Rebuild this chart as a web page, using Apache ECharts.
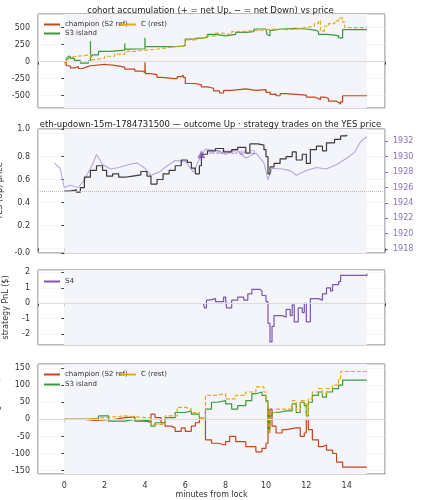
<!DOCTYPE html>
<html><head><meta charset="utf-8">
<script src="https://cdn.jsdelivr.net/npm/echarts@6/dist/echarts.min.js"></script>
<style>html,body{margin:0;background:#fff}#main{width:421px;height:500px}</style>
</head><body><div id="main"></div>
<script>
// panel 1: accumulated net YES shares
var accChampion = [[0,0],[0.1,-60],[0.3,-90],[0.5,-70],[0.7,-100],[0.9,-80],[1.1,-60],[1.3,-40],[2,-45],[2.2,-55],[2.5,-80],[3,-110],[3.5,-140],[3.9,-160],[4,-10],[4.02,-175],[4.3,-190],[4.6,-230],[4.8,-250],[5.5,-250],[5.6,-220],[5.8,-200],[5.9,-230],[6,-320],[6.5,-340],[6.8,-370],[7.1,-390],[7.4,-430],[7.7,-460],[7.9,-420],[8.3,-400],[9,-420],[9.5,-410],[10,-450],[10.2,-480],[10.4,-470],[10.5,-500],[10.7,-470],[11,-480],[11.5,-490],[12,-520],[12.4,-540],[12.6,-560],[12.7,-520],[12.9,-540],[13.1,-580],[13.5,-600],[13.6,-620],[13.7,-590],[13.8,-500],[15,-500]];
var accS3 = [[0,0],[0.1,40],[0.2,80],[0.3,50],[0.5,20],[0.8,-20],[1.2,10],[1.3,300],[1.31,60],[1.4,100],[1.7,150],[2.3,170],[3,170],[3,270],[3.01,185],[3.3,190],[4,200],[4,350],[4.01,220],[4.8,220],[5.5,230],[5.9,240],[6,330],[6.4,350],[6.9,360],[7.1,400],[7.5,380],[8,400],[8.5,430],[9,440],[9.4,480],[10,480],[10.05,400],[10.1,380],[10.2,460],[10.3,480],[10.8,490],[11.5,480],[12,460],[12.5,440],[12.6,400],[13,390],[13.4,380],[13.6,350],[13.8,470],[15,470]];
var accC = [[0,0],[0.1,60],[0.3,80],[0.6,90],[1,100],[1.3,30],[1.5,50],[2,80],[2.5,110],[3,150],[3.5,170],[4,180],[4.5,200],[5,220],[5.5,230],[6,320],[6.5,350],[7,380],[7.5,420],[7.8,400],[8.3,440],[8.8,460],[9.5,470],[10,480],[10.5,470],[11,480],[11.5,500],[12,520],[12.4,560],[12.6,600],[12.7,450],[12.9,520],[13.1,560],[13.4,600],[13.6,640],[13.8,580],[13.9,500],[15,500]];

// panel 2: YES price and ETH/USD
var yesPrice = [[0,0.5],[0.3,0.51],[0.6,0.49],[0.8,0.53],[1,0.62],[1.3,0.68],[1.6,0.72],[1.9,0.68],[2.1,0.63],[2.4,0.65],[2.7,0.62],[3,0.63],[3.4,0.64],[3.8,0.67],[4.1,0.63],[4.3,0.56],[4.6,0.6],[4.9,0.65],[5.2,0.68],[5.5,0.72],[5.8,0.77],[6.1,0.75],[6.3,0.7],[6.5,0.65],[6.7,0.72],[6.8,0.82],[7.1,0.85],[7.5,0.87],[7.9,0.84],[8.3,0.86],[8.6,0.88],[9,0.83],[9.2,0.91],[9.6,0.9],[9.9,0.86],[10,0.8],[10.1,0.65],[10.2,0.71],[10.4,0.74],[10.7,0.78],[11,0.8],[11.3,0.84],[11.5,0.77],[11.8,0.82],[12,0.74],[12.2,0.86],[12.5,0.89],[12.8,0.85],[13,0.92],[13.4,0.95],[13.7,0.98],[14,0.99]];
var ethUsd = [[-0.5,1929.2],[-0.2,1928.5],[0,1926],[0.3,1926.3],[0.7,1926],[1,1927],[1.4,1929],[1.6,1930.3],[1.9,1929],[2.3,1928.4],[2.7,1928.6],[3.2,1929],[3.6,1929.2],[4,1928.5],[4.3,1927.6],[4.7,1928],[5.1,1928.8],[5.5,1929.5],[6,1929.4],[6.4,1928],[6.7,1929.7],[7,1931],[7.6,1930.8],[8,1930.3],[8.5,1931],[9,1929.8],[9.5,1930.5],[9.9,1929.2],[10.1,1927],[10.3,1928.5],[10.8,1928.4],[11.2,1928.2],[11.5,1927.6],[12,1928.2],[12.5,1928.6],[13,1928.4],[13.5,1929],[14,1929.8],[14.4,1930.6],[14.7,1932],[15,1932.6]];
var tradePts = [[6.8,0.82]];

// panel 3: strategy PnL
var pnlS4 = [[6.9,0],[6.95,-0.3],[7.05,0.2],[7.2,0.3],[7.5,0.1],[7.9,0.4],[8,0.2],[8.05,-0.3],[8.3,0.2],[8.6,0.4],[8.9,0.2],[9.1,0.6],[9.3,0.9],[9.7,0.8],[9.8,0.5],[10,0.1],[10.1,-1.3],[10.2,-2.5],[10.3,-1.5],[10.4,-0.8],[10.8,-0.9],[11,-0.4],[11.2,-0.8],[11.3,-0.1],[11.4,-1.2],[11.6,-0.3],[11.8,-0.6],[11.9,0],[12,-1.2],[12.2,0.3],[12.6,0.2],[12.8,0.6],[13,1],[13.2,0.8],[13.3,1.2],[13.6,1.4],[13.7,1.8],[15,1.8],[15,1.9]];

// panel 4: cohort moving PnL
var mpChampion = [[0,0],[1,-3],[1.5,0],[2.5,5],[3,7],[3.5,-5],[4,-8],[4.3,15],[4.5,5],[4.8,-10],[5,-20],[5.3,-25],[5.5,-35],[5.8,-25],[6,-35],[6.3,-20],[6.5,-10],[6.7,0],[7,-60],[7.3,-70],[7.6,-75],[8,-65],[8.2,-50],[8.5,-65],[9,-80],[9.5,-95],[9.8,-85],[10,-70],[10.1,40],[10.15,-40],[10.2,30],[10.3,-20],[10.5,-40],[10.8,-30],[11,-25],[11.5,-25],[11.7,-50],[11.9,-40],[12,0],[12.1,-30],[12.3,-60],[12.6,-80],[12.8,-75],[13,-90],[13.3,-100],[13.5,-125],[13.8,-140],[15,-140]];
var mpS3 = [[0,0],[1,2],[1.7,10],[2.2,-5],[3,0],[3.5,-5],[4.3,-20],[4.5,-10],[5,5],[5.5,20],[6,25],[6.3,15],[6.7,0],[7,30],[7.3,50],[7.6,55],[8,45],[8.3,30],[8.6,40],[9,55],[9.3,75],[9.5,80],[9.8,70],[10,55],[10.1,-30],[10.2,10],[10.3,20],[10.6,25],[11,25],[11.3,45],[11.5,20],[11.7,50],[11.9,40],[12,10],[12.1,50],[12.3,70],[12.6,80],[12.8,65],[13,80],[13.3,90],[13.6,100],[13.8,115],[15,115]];
var mpC = [[0,0],[1,5],[2,10],[3,5],[4,5],[4.3,-15],[5,10],[5.6,35],[6,30],[6.3,20],[6.7,5],[7,70],[7.5,75],[8,60],[8.5,70],[9,80],[9.5,95],[9.9,80],[10,50],[10.1,-40],[10.2,20],[10.5,30],[11,30],[11.3,55],[11.5,25],[11.7,55],[11.9,45],[12,10],[12.1,60],[12.3,80],[12.6,90],[12.8,75],[13,90],[13.3,100],[13.6,120],[13.7,140],[15,140]];

var C_CH = '#c1471d', C_S3 = '#3c9a3c', C_C = '#e6a817', C_S4 = '#7e55b0', C_ETH = '#b9a6d9';
var font = 'DejaVu Sans';
var tops = [14, 129, 270, 364], heights = [94, 124, 75, 110];

function xAxis(i) {
  return {
    type: 'value', gridIndex: i, min: -1.3, max: 15.9, minInterval: 2, maxInterval: 2,
    axisLine: {show: false}, axisTick: {show: true, length: 3, lineStyle: {color: '#444'}},
    axisLabel: {show: i === 3, showMinLabel: false, showMaxLabel: false, fontSize: 8, color: '#333', fontFamily: font},
    splitLine: {show: true, lineStyle: {color: '#ececf2', width: 0.6}},
    name: i === 3 ? 'minutes from lock' : '', nameLocation: 'middle', nameGap: 16,
    nameTextStyle: {fontSize: 8, color: '#333', fontFamily: font}
  };
}
function yAxis(i, min, max, step, name, extra) {
  var a = {
    type: 'value', gridIndex: i, min: min, max: max, minInterval: step, maxInterval: step,
    axisLine: {show: false}, axisTick: {show: true, length: 3, lineStyle: {color: '#444'}},
    axisLabel: {showMinLabel: false, showMaxLabel: false, fontSize: 8, color: '#333', fontFamily: font},
    splitLine: {show: true, lineStyle: {color: '#ececf2', width: 0.6}},
    name: name, nameLocation: 'middle', nameGap: 28,
    nameTextStyle: {fontSize: 8, color: '#333', fontFamily: font}
  };
  for (var k in extra) a[k] = extra[k];
  return a;
}
function line(name, data, color, xi, yi, dashed, extra) {
  var s = {
    name: name, type: 'line', data: data, xAxisIndex: xi, yAxisIndex: yi, step: 'end',
    showSymbol: false, symbol: 'none', lineStyle: {color: color, width: 1.2, type: dashed ? [4, 2] : 'solid'},
    itemStyle: {color: color}, z: 3
  };
  for (var k in extra) s[k] = extra[k];
  return s;
}
function shade(xi, yi) {
  return {
    type: 'line', data: [], xAxisIndex: xi, yAxisIndex: yi, silent: true,
    markArea: {silent: true, itemStyle: {color: '#f3f5fa'}, data: [[{xAxis: 0}, {xAxis: 15}]]},
    markLine: {silent: true, symbol: 'none', label: {show: false},
      lineStyle: {color: '#dcdcdc', width: 1, type: 'solid'}, data: [{yAxis: 0}]}, z: 1
  };
}
var legendStyle = {fontSize: 7, color: '#333', fontFamily: font};
function leg(name, left, top) {
  return {data: [name], left: left, top: top, itemWidth: 16, itemHeight: 2, icon: 'rect', padding: 0, textStyle: legendStyle};
}

var option = {
  animation: false,
  title: [
    {text: 'cohort accumulation (+ = net Up, − = net Down) vs price', left: 'center', top: 1, textStyle: {fontSize: 8.5, fontWeight: 'normal', color: '#222', fontFamily: font}},
    {text: 'eth-updown-15m-1784731500 — outcome Up · strategy trades on the YES price', left: 'center', top: 115, textStyle: {fontSize: 8.5, fontWeight: 'normal', color: '#222', fontFamily: font}}
  ],
  grid: tops.map(function (t, i) {
    return {left: 38, right: 36, top: t, height: heights[i], show: true, borderColor: '#777', borderWidth: 1, backgroundColor: '#fff', outerBoundsMode: 'none', containLabel: false};
  }),
  legend: [
    leg('champion (S2 ref)', 44, 21), leg('C (rest)', 120, 21), leg('S3 island', 44, 30),
    leg('S4', 44, 278),
    leg('champion (S2 ref) ', 44, 371), leg('C (rest) ', 120, 371), leg('S3 island ', 44, 381)
  ],
  xAxis: [xAxis(0), xAxis(1), xAxis(2), xAxis(3)],
  yAxis: [
    yAxis(0, -680, 700, 250, 'acc. net YES (shares)'),
    yAxis(1, -0.04, 1.04, 0.2, 'YES (Up) price', {axisLabel: {showMinLabel: true, showMaxLabel: true, fontSize: 8, color: '#333', fontFamily: font, formatter: function (v) { return v.toFixed(1); }}}),
    yAxis(1, 1917.5, 1933.6, 2, 'ETH/USD (strike dotted = YES 0.5)', {position: 'right', nameGap: 30, splitLine: {show: false},
      axisLabel: {showMinLabel: false, showMaxLabel: false, fontSize: 8, color: '#8a6fbf', fontFamily: font, formatter: function (v) { return String(v); }},
      nameTextStyle: {fontSize: 7.5, color: '#8a6fbf', fontFamily: font}, axisTick: {show: true, length: 3, lineStyle: {color: '#8a6fbf'}}}),
    yAxis(2, -2.7, 2.15, 1, 'strategy PnL ($)'),
    yAxis(3, -160, 162, 50, 'cohort moving PnL ($)')
  ],
  series: [
    shade(0, 0), shade(2, 3), shade(3, 4),
    {type: 'line', data: [], xAxisIndex: 1, yAxisIndex: 1, silent: true,
      markArea: {silent: true, itemStyle: {color: '#f3f5fa'}, data: [[{xAxis: 0}, {xAxis: 15}]]},
      markLine: {silent: true, symbol: 'none', label: {show: false}, lineStyle: {color: '#bbb', width: 1, type: 'dotted'}, data: [{yAxis: 0.5}]}, z: 1},
    line('champion (S2 ref)', accChampion, C_CH, 0, 0),
    line('S3 island', accS3, C_S3, 0, 0),
    line('C (rest)', accC, C_C, 0, 0, true),
    line('ETH/USD', ethUsd, C_ETH, 1, 2, false, {step: false, lineStyle: {color: C_ETH, width: 1.1}}),
    line('YES price', yesPrice, '#3a3a3a', 1, 1),
    {type: 'scatter', data: tradePts, xAxisIndex: 1, yAxisIndex: 1, symbol: 'triangle', symbolSize: 8, itemStyle: {color: C_S4}, z: 5,
      label: {show: true, position: 'right', formatter: 'S4 BUY YES @0.82', fontSize: 5, color: C_S4, fontFamily: font, offset: [-2, -2]}},
    line('S4', pnlS4, C_S4, 2, 3),
    line('champion (S2 ref) ', mpChampion, C_CH, 3, 4),
    line('S3 island ', mpS3, C_S3, 3, 4),
    line('C (rest) ', mpC, C_C, 3, 4, true)
  ]
};
echarts.init(document.getElementById('main')).setOption(option);
</script>
</body></html>
